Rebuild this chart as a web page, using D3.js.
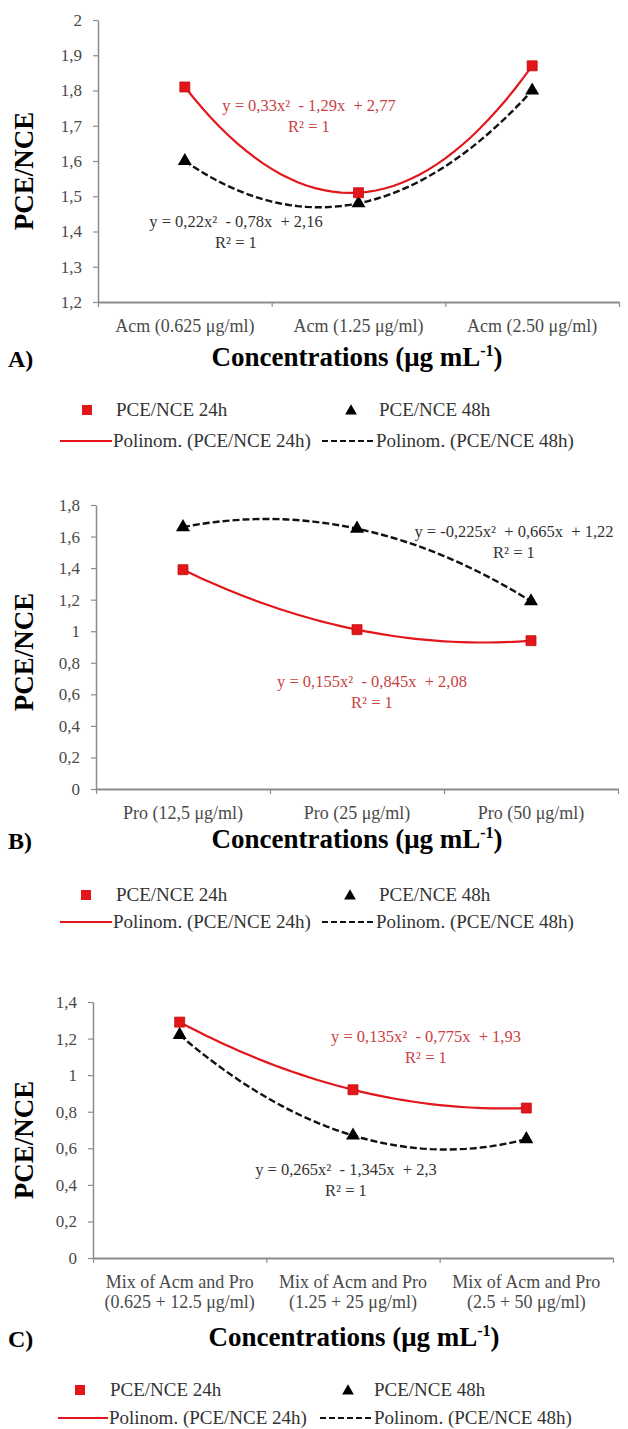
<!DOCTYPE html>
<html>
<head>
<meta charset="utf-8">
<script src="https://cdn.jsdelivr.net/npm/d3@7"></script>
<style>
  body { margin: 0; background: #fff; }
  svg { display: block; }
</style>
</head>
<body>
<script>
// --- data ---
var categoriesA = [["Acm (0.625 μg/ml)"], ["Acm (1.25 μg/ml)"], ["Acm (2.50 μg/ml)"]];
var categoriesB = [["Pro (12,5 μg/ml)"], ["Pro (25 μg/ml)"], ["Pro (50 μg/ml)"]];
var categoriesC = [["Mix of Acm and Pro", "(0.625 + 12.5 μg/ml)"],
                   ["Mix of Acm and Pro", "(1.25 + 25 μg/ml)"],
                   ["Mix of Acm and Pro", "(2.5 + 50 μg/ml)"]];

var pce24A = [1.81, 1.51, 1.87];
var pce48A = [1.60, 1.48, 1.80];
var pce24B = [1.39, 1.01, 0.94];
var pce48B = [1.66, 1.65, 1.19];
var pce24C = [1.29, 0.92, 0.82];
var pce48C = [1.22, 0.67, 0.65];

// trendline coefficients (a x² + b x + c), as printed on the chart
var fit24A = [0.33, -1.29, 2.77];
var fit48A = [0.22, -0.78, 2.16];
var fit24B = [0.155, -0.845, 2.08];
var fit48B = [-0.225, 0.665, 1.22];
var fit24C = [0.135, -0.775, 1.93];
var fit48C = [0.265, -1.345, 2.3];

var eq24A = ["y = 0,33x²  - 1,29x  + 2,77", "R² = 1"];
var eq48A = ["y = 0,22x²  - 0,78x  + 2,16", "R² = 1"];
var eq24B = ["y = 0,155x²  - 0,845x  + 2,08", "R² = 1"];
var eq48B = ["y = -0,225x²  + 0,665x  + 1,22", "R² = 1"];
var eq24C = ["y = 0,135x²  - 0,775x  + 1,93", "R² = 1"];
var eq48C = ["y = 0,265x²  - 1,345x  + 2,3", "R² = 1"];

var ticksA = [1.2, 1.3, 1.4, 1.5, 1.6, 1.7, 1.8, 1.9, 2];
var ticksB = [0, 0.2, 0.4, 0.6, 0.8, 1, 1.2, 1.4, 1.6, 1.8];
var ticksC = [0, 0.2, 0.4, 0.6, 0.8, 1, 1.2, 1.4];

var legendLabels = ["PCE/NCE 24h", "PCE/NCE 48h",
                    "Polinom. (PCE/NCE 24h)", "Polinom. (PCE/NCE 48h)"];

var RED = "#e3161b";
var RED_TEXT = "#c8423f";
var AXIS = "#8c8c8c";
var SERIF = "'Liberation Serif', 'Times New Roman', 'DejaVu Serif', serif";

var svg = d3.select("body").append("svg")
    .attr("width", 628)
    .attr("height", 1429);

function fmt(v) {
  return d3.format(".1f")(v).replace(/\.0$/, "").replace(".", ",");
}

function drawPanel(p) {
  var g = svg.append("g");
  var x = d3.scaleLinear().domain([0.5, 3.5]).range([p.left, p.right]);
  var y = d3.scaleLinear().domain([p.ticks[0], p.ticks[p.ticks.length - 1]])
      .range([p.bottom, p.top]);

  // y axis
  var ya = g.append("g")
      .attr("transform", "translate(" + p.left + ",0)")
      .call(d3.axisLeft(y).tickValues(p.ticks).tickFormat(fmt)
        .tickSize(5).tickPadding(11).tickSizeOuter(0));
  ya.select(".domain").attr("stroke", AXIS).attr("stroke-width", 1.5);
  ya.selectAll(".tick line").attr("stroke", AXIS).attr("stroke-width", 1.2);
  ya.selectAll(".tick text").attr("fill", "#4a4a4a")
    .style("font", "17px " + SERIF);

  // x axis (ticks between categories)
  var xa = g.append("g")
      .attr("transform", "translate(0," + p.bottom + ")")
      .call(d3.axisBottom(x).tickValues([0.5, 1.5, 2.5, 3.5])
        .tickFormat("").tickSize(5).tickSizeOuter(0));
  xa.select(".domain").attr("stroke", AXIS).attr("stroke-width", 2);
  xa.selectAll(".tick line").attr("stroke", AXIS).attr("stroke-width", 1.2);

  // category labels
  p.categories.forEach(function(lines, i) {
    var t = g.append("text")
        .attr("x", x(i + 1))
        .attr("y", p.bottom + 30)
        .attr("text-anchor", "middle")
        .attr("fill", "#4a4a4a")
        .style("font", "18px " + SERIF);
    lines.forEach(function(s, j) {
      t.append("tspan").attr("x", x(i + 1)).attr("dy", j ? 20 : 0).text(s);
    });
  });

  // y title
  g.append("text")
      .attr("transform", "translate(33," + p.yLabelY + ") rotate(-90)")
      .attr("text-anchor", "middle")
      .style("font", "bold 27px " + SERIF)
      .text("PCE/NCE");

  // x title + panel letter
  var xt = g.append("text")
      .attr("x", p.titleX)
      .attr("y", p.titleY)
      .attr("text-anchor", "middle")
      .style("font", "bold 27px " + SERIF)
      .text("Concentrations (μg mL");
  xt.append("tspan").attr("dy", -10).style("font-size", "16px").text("-1");
  xt.append("tspan").attr("dy", 10).text(")");

  g.append("text")
      .attr("x", 8)
      .attr("y", p.titleY + 1)
      .style("font", "bold 24px " + SERIF)
      .text(p.letter);

  // trendlines
  var line = d3.line().x(function(d) { return x(d[0]); })
      .y(function(d) { return y(d[1]); });
  function trend(c) {
    return d3.range(1, 3.0001, 0.05).map(function(t) {
      return [t, c[0] * t * t + c[1] * t + c[2]];
    });
  }
  g.append("path").datum(trend(p.fit48))
      .attr("d", line).attr("fill", "none")
      .attr("stroke", "#111").attr("stroke-width", 2.4)
      .attr("stroke-dasharray", "7,3");
  g.append("path").datum(trend(p.fit24))
      .attr("d", line).attr("fill", "none")
      .attr("stroke", RED).attr("stroke-width", 2.2);

  // markers
  g.selectAll(".tri").data(p.pce48).enter().append("path")
      .attr("transform", function(d, i) {
        return "translate(" + x(i + 1) + "," + y(d) + ")"; })
      .attr("d", d3.symbol().type(d3.symbolTriangle).size(85))
      .attr("fill", "#000");
  g.selectAll(".sq").data(p.pce24).enter().append("path")
      .attr("transform", function(d, i) {
        return "translate(" + x(i + 1) + "," + y(d) + ")"; })
      .attr("d", d3.symbol().type(d3.symbolSquare).size(100))
      .attr("fill", RED).attr("stroke", "#c01010").attr("stroke-width", 0.8);

  // equations
  function eq(lines, pos, color) {
    lines.forEach(function(s, j) {
      g.append("text")
          .attr("x", pos[0])
          .attr("y", pos[1] + j * 21)
          .attr("text-anchor", "middle")
          .attr("fill", color)
          .style("white-space", "pre")
          .style("font", "16.5px " + SERIF)
          .text(s);
    });
  }
  eq(p.eq24, p.eq24Pos, RED_TEXT);
  eq(p.eq48, p.eq48Pos, "#333");

  // legend
  var L = p.legend;
  var lg = g.append("g").style("font", "19px " + SERIF).attr("fill", "#333");
  lg.append("rect").attr("x", L.sq - 5).attr("y", L.y1 - 5)
      .attr("width", 10).attr("height", 10).attr("fill", RED);
  lg.append("text").attr("x", L.t1).attr("y", L.y1 + 6).text(legendLabels[0]);
  lg.append("path")
      .attr("transform", "translate(" + L.tri + "," + (L.y1 + 1) + ")")
      .attr("d", d3.symbol().type(d3.symbolTriangle).size(60))
      .attr("fill", "#000");
  lg.append("text").attr("x", L.t2).attr("y", L.y1 + 6).text(legendLabels[1]);

  lg.append("line").attr("x1", L.line[0]).attr("x2", L.line[1])
      .attr("y1", L.y2).attr("y2", L.y2)
      .attr("stroke", RED).attr("stroke-width", 2);
  lg.append("text").attr("x", L.line[1] + 1).attr("y", L.y2 + 6).text(legendLabels[2]);
  lg.append("line").attr("x1", L.dash[0]).attr("x2", L.dash[1])
      .attr("y1", L.y2).attr("y2", L.y2)
      .attr("stroke", "#111").attr("stroke-width", 2)
      .attr("stroke-dasharray", "6,3");
  lg.append("text").attr("x", L.dash[1] + 2).attr("y", L.y2 + 6).text(legendLabels[3]);
}

drawPanel({
  letter: "A)", categories: categoriesA, ticks: ticksA,
  pce24: pce24A, pce48: pce48A, fit24: fit24A, fit48: fit48A,
  eq24: eq24A, eq48: eq48A, eq24Pos: [309, 111], eq48Pos: [236, 227],
  left: 98, right: 619, top: 20, bottom: 302,
  yLabelY: 171, titleX: 357, titleY: 366,
  legend: { y1: 410, y2: 441, sq: 87, t1: 116, tri: 351, t2: 379,
            line: [60, 112], dash: [322, 374] }
});

drawPanel({
  letter: "B)", categories: categoriesB, ticks: ticksB,
  pce24: pce24B, pce48: pce48B, fit24: fit24B, fit48: fit48B,
  eq24: eq24B, eq48: eq48B, eq24Pos: [372, 687], eq48Pos: [514, 537],
  left: 96, right: 618, top: 505, bottom: 789,
  yLabelY: 652, titleX: 357, titleY: 848,
  legend: { y1: 895, y2: 922, sq: 86, t1: 116, tri: 350, t2: 379,
            line: [60, 112], dash: [322, 374] }
});

drawPanel({
  letter: "C)", categories: categoriesC, ticks: ticksC,
  pce24: pce24C, pce48: pce48C, fit24: fit24C, fit48: fit48C,
  eq24: eq24C, eq48: eq48C, eq24Pos: [426, 1042], eq48Pos: [346, 1175],
  left: 93, right: 613, top: 1002, bottom: 1258,
  yLabelY: 1140, titleX: 354, titleY: 1346,
  legend: { y1: 1390, y2: 1418, sq: 80, t1: 110, tri: 348, t2: 374,
            line: [58, 108], dash: [320, 372] }
});
</script>
</body>
</html>
